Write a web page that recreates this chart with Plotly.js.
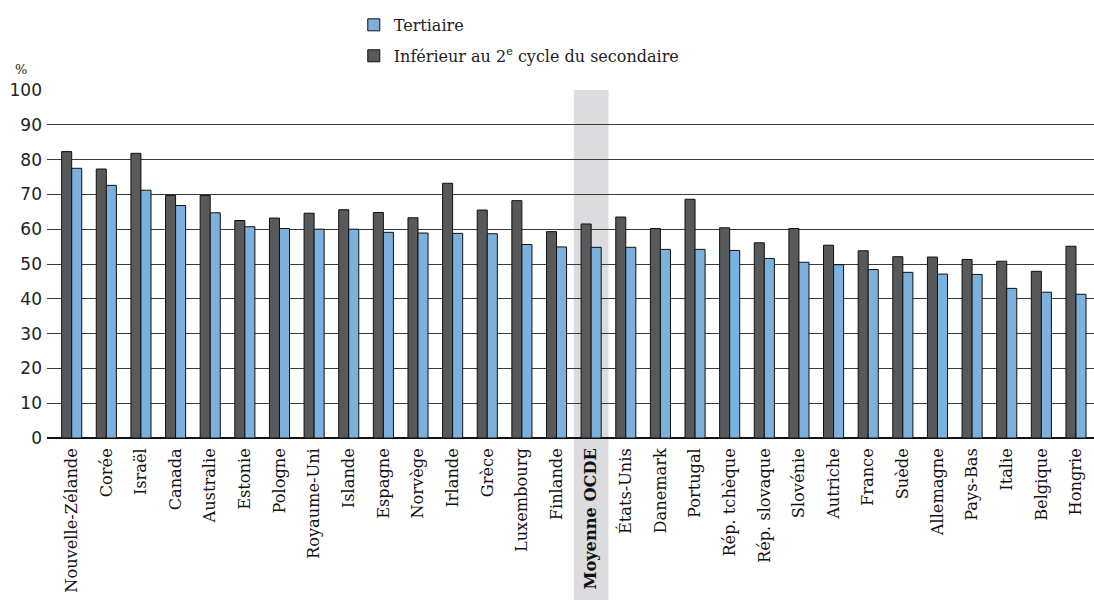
<!DOCTYPE html>
<html>
<head>
<meta charset="utf-8">
<script src="https://cdn.plot.ly/plotly-3.0.1.min.js"></script>
<style>html,body{margin:0;padding:0;background:#fff;}#chart{width:1094px;height:600px;}</style>
</head>
<body>
<div id="chart"></div>
<script>
const countries = ["Nouvelle-Zélande","Corée","Israël","Canada","Australie","Estonie","Pologne","Royaume-Uni","Islande","Espagne","Norvège","Irlande","Grèce","Luxembourg","Finlande","Moyenne OCDE","États-Unis","Danemark","Portugal","Rép. tchèque","Rép. slovaque","Slovénie","Autriche","France","Suède","Allemagne","Pays-Bas","Italie","Belgique","Hongrie"];
const lowerSecondary = [82.3,77.3,81.8,69.7,69.7,62.5,63.2,64.6,65.6,64.8,63.3,73.2,65.5,68.2,59.3,61.5,63.5,60.2,68.6,60.4,56.1,60.2,55.4,53.8,52.1,52.0,51.3,50.8,47.9,55.1];
const tertiary = [77.5,72.6,71.2,66.8,64.7,60.7,60.2,60.0,60.0,59.1,58.9,58.8,58.7,55.6,54.9,54.8,54.8,54.2,54.2,53.9,51.6,50.5,49.8,48.4,47.6,47.1,47.0,43.0,41.9,41.3];
const highlight = "Moyenne OCDE";
const yTicks = [0,10,20,30,40,50,60,70,80,90,100];

const idx = countries.map((c,i)=>i);
const tickText = countries.map(c => c === highlight ? "<b>" + c + "</b>" : c);
const hi = countries.indexOf(highlight);
const serif = "DejaVu Serif";

const traces = [
  {type:"bar", x:idx, y:lowerSecondary, name:"Inférieur au 2<sup>e</sup> cycle du secondaire",
   marker:{color:"#58595b", line:{color:"#111", width:1}}, legend:"legend2"},
  {type:"bar", x:idx, y:tertiary, name:"Tertiaire",
   marker:{color:"#7bb1dc", line:{color:"#111", width:1}}, legend:"legend"}
];

const layout = {
  width:1094, height:600,
  margin:{l:47, r:0, t:90, b:162, autoexpand:false},
  paper_bgcolor:"#fff", plot_bgcolor:"rgba(0,0,0,0)",
  barmode:"group", bargap:0.42, bargroupgap:0,
  font:{family:serif, color:"#222"},
  xaxis:{tickmode:"array", tickvals:idx, ticktext:tickText, tickangle:-90,
    range:[-0.713, 29.52], showgrid:false, zeroline:false, showline:false,
    ticks:"", ticklabelstandoff:6, tickfont:{family:serif, size:16.2, color:"#111"}},
  yaxis:{range:[0,100], tickmode:"array", tickvals:yTicks, ticks:"",
    showgrid:true, gridcolor:"#3a3a3a", gridwidth:1, zeroline:true, zerolinecolor:"#111", zerolinewidth:1.2,
    showline:false, tickfont:{family:"DejaVu Sans", size:17, color:"#222"}, ticklabelstandoff:4},
  showlegend:true,
  legend:{x:0.293, y:1.187, xanchor:"left", yanchor:"middle", bgcolor:"rgba(0,0,0,0)",
    font:{family:serif, size:16, color:"#222"}, itemwidth:30},
  legend2:{x:0.293, y:1.098, xanchor:"left", yanchor:"middle", bgcolor:"rgba(0,0,0,0)",
    font:{family:serif, size:16, color:"#222"}, itemwidth:30},
  shapes:[{type:"rect", layer:"below", xref:"x", yref:"paper", x0:hi-0.5, x1:hi+0.5, y0:-0.47, y1:1,
    fillcolor:"#dcdcde", line:{width:0}}],
  annotations:[{text:"%", xref:"paper", yref:"paper", x:-0.025, y:1.06, xanchor:"center", yanchor:"middle",
    showarrow:false, font:{family:serif, size:13, color:"#222"}}]
};

Plotly.newPlot("chart", traces, layout, {displayModeBar:false, staticPlot:true});
</script>
</body>
</html>
